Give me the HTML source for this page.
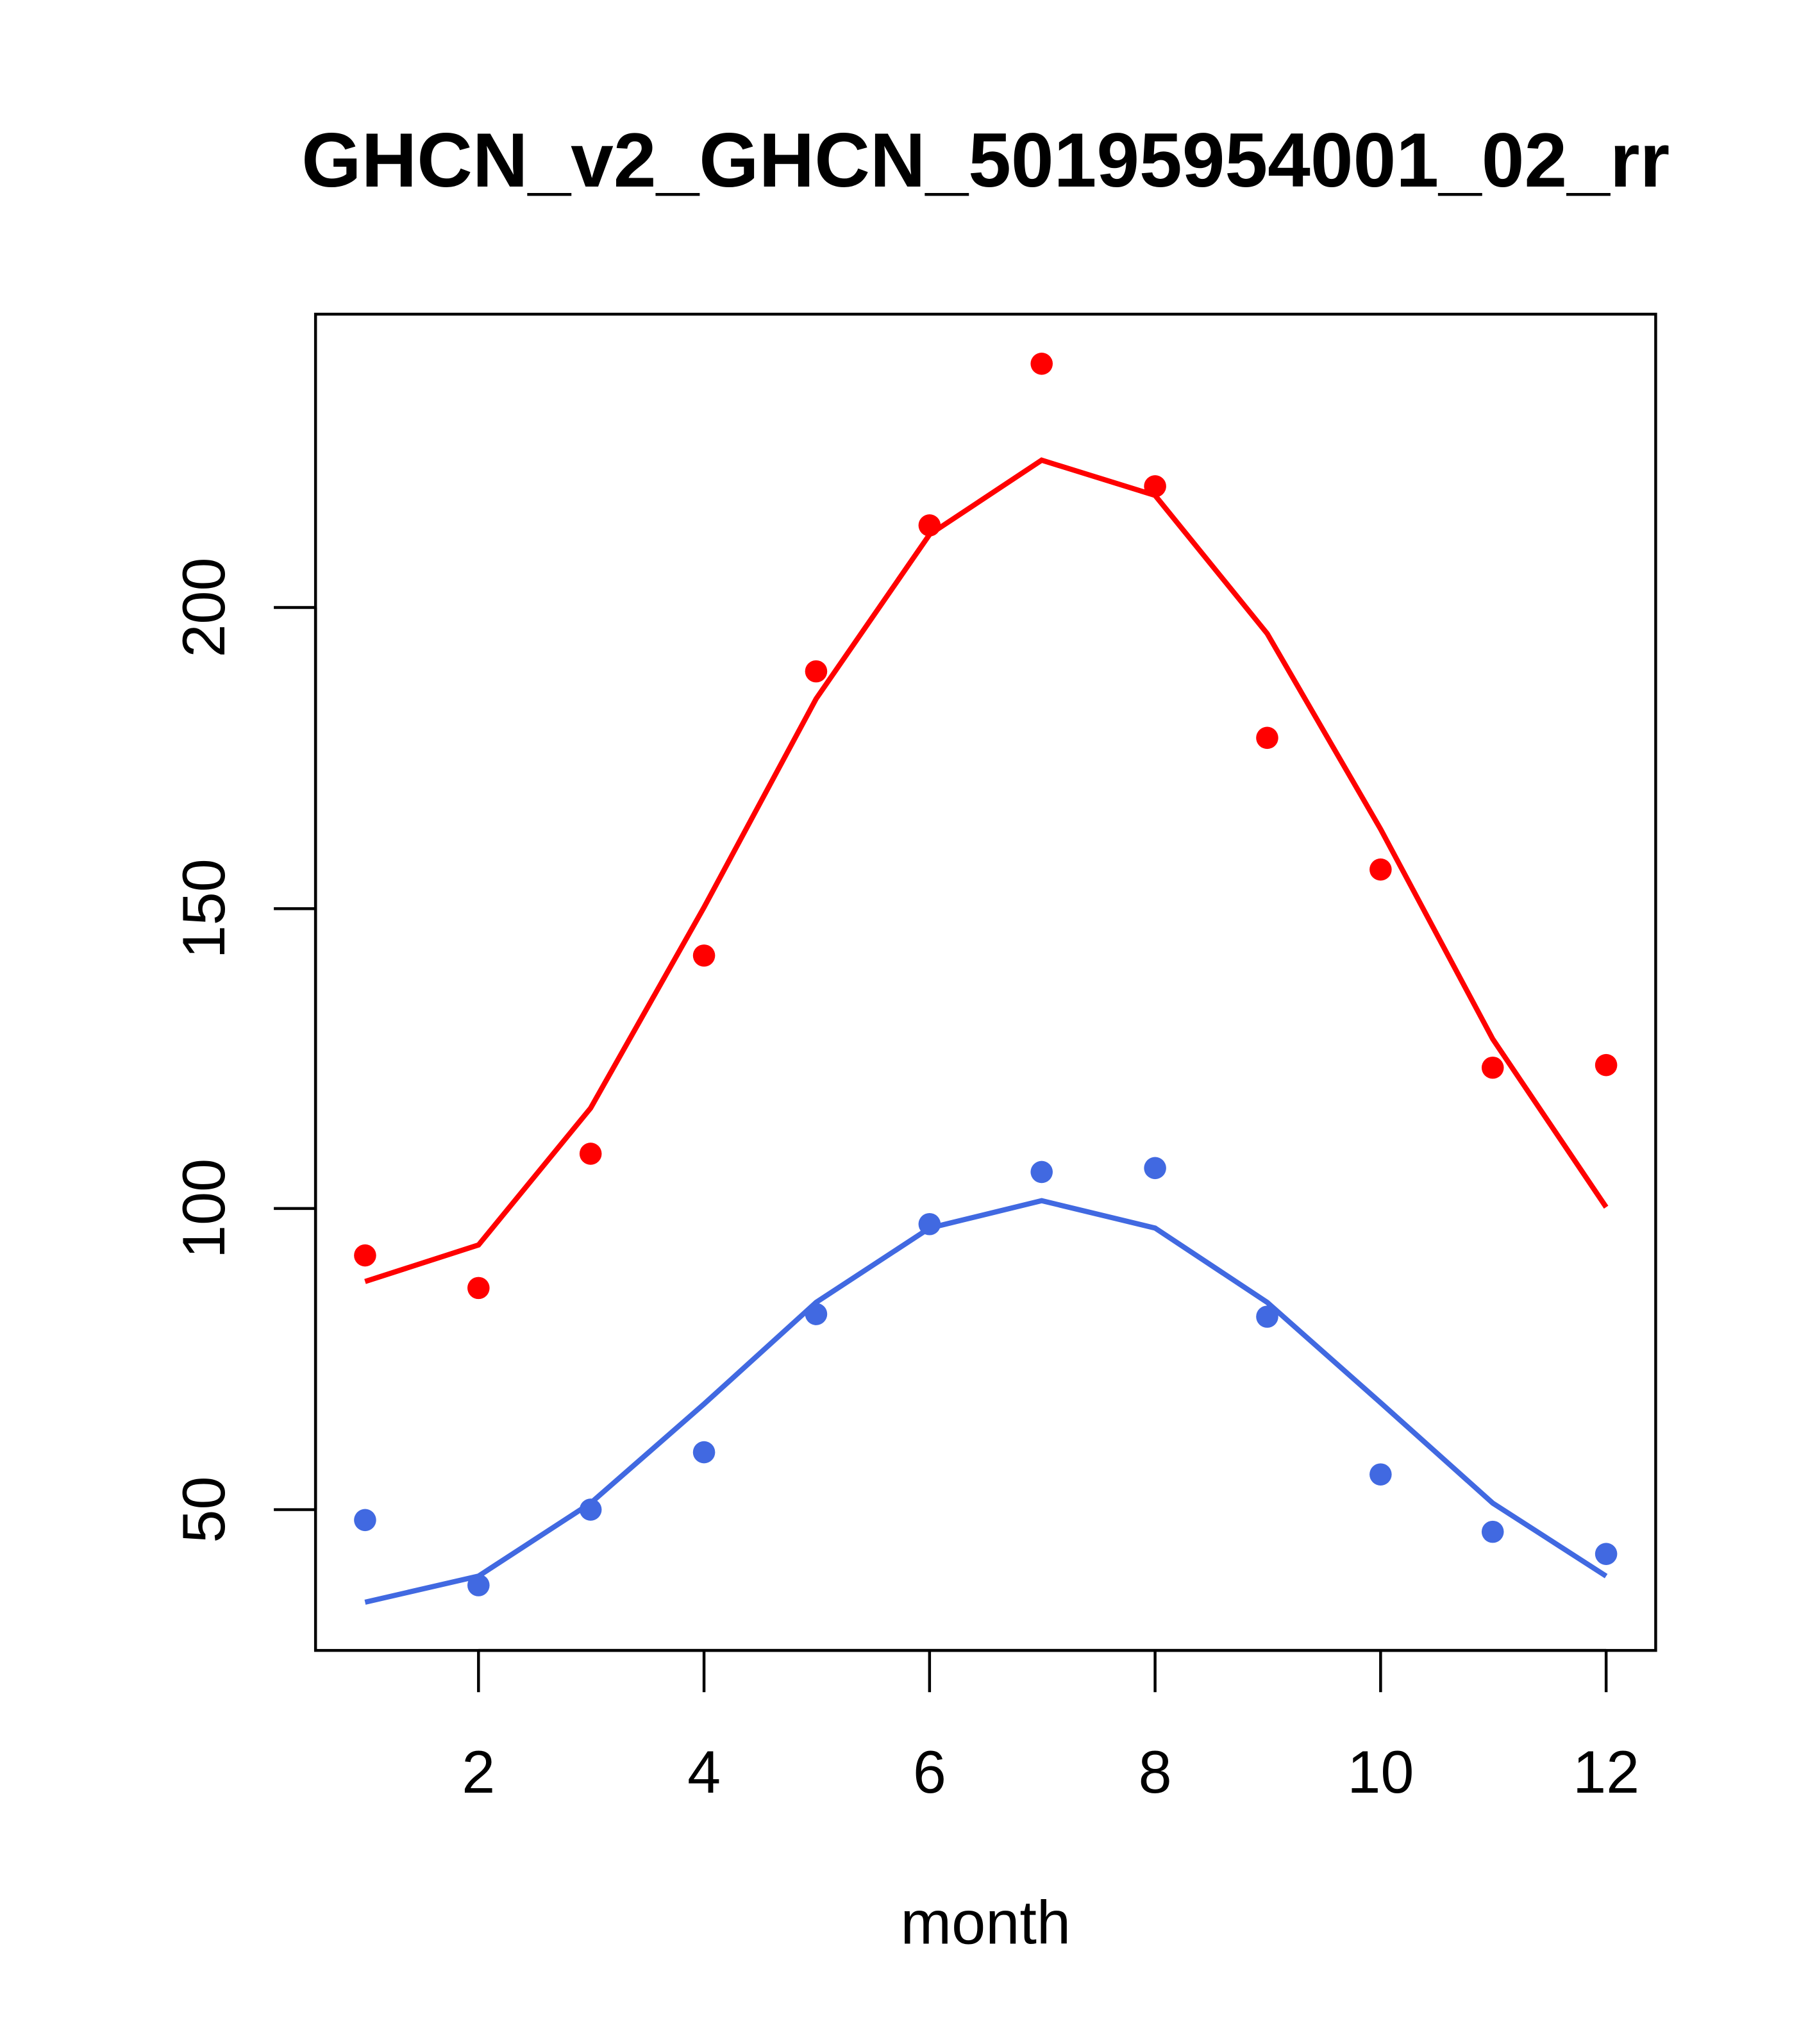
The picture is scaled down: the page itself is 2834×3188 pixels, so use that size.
<!DOCTYPE html>
<html><head><style>html,body{margin:0;padding:0;background:#fff}svg{display:block}</style></head>
<body>
<svg width="2834" height="3188" viewBox="0 0 1393.7 1567.9" xmlns="http://www.w3.org/2000/svg" font-family="Liberation Sans, sans-serif">
<rect width="1400" height="1575" fill="#fff"/>
<text x="756" y="143" font-size="59" font-weight="bold" text-anchor="middle">GHCN_v2_GHCN_50195954001_02_rr</text>
<rect x="242" y="241" width="1028" height="1025" fill="none" stroke="#000" stroke-width="2.2"/>
<g stroke="#000" stroke-width="2.2">
<line x1="367" y1="1266" x2="1232" y2="1266"/>
<line x1="367" y1="1266" x2="367" y2="1298"/><line x1="540" y1="1266" x2="540" y2="1298"/>
<line x1="713" y1="1266" x2="713" y2="1298"/><line x1="886" y1="1266" x2="886" y2="1298"/>
<line x1="1059" y1="1266" x2="1059" y2="1298"/><line x1="1232" y1="1266" x2="1232" y2="1298"/>
<line x1="242" y1="466" x2="242" y2="1158"/>
<line x1="210" y1="466" x2="242" y2="466"/><line x1="210" y1="697" x2="242" y2="697"/>
<line x1="210" y1="927" x2="242" y2="927"/><line x1="210" y1="1158" x2="242" y2="1158"/>
</g>
<g font-size="46" text-anchor="middle">
<text x="367" y="1375">2</text><text x="540" y="1375">4</text><text x="713" y="1375">6</text>
<text x="886" y="1375">8</text><text x="1059" y="1375">10</text><text x="1232" y="1375">12</text>
<text transform="translate(172,466) rotate(-90)">200</text>
<text transform="translate(172,697) rotate(-90)">150</text>
<text transform="translate(172,927) rotate(-90)">100</text>
<text transform="translate(172,1158) rotate(-90)">50</text>
<text x="756" y="1491" font-size="47">month</text>
</g>
<polyline fill="none" stroke="#ff0000" stroke-width="4" points="280,983 367,955 453,850 540,696 626,536 713,410 799,353 886,380 972,486 1059,636 1145,797 1232,926"/>
<polyline fill="none" stroke="#4169e1" stroke-width="4" points="280,1229 367,1209 453,1153 540,1077 626,999 713,942 799,921 886,942 972,999 1059,1076 1145,1153 1232,1209"/>
<g fill="#ff0000">
<circle cx="280" cy="963" r="8.5"/><circle cx="367" cy="988" r="8.5"/><circle cx="453" cy="885" r="8.5"/>
<circle cx="540" cy="733" r="8.5"/><circle cx="626" cy="515" r="8.5"/><circle cx="713" cy="403" r="8.5"/>
<circle cx="799" cy="279" r="8.5"/><circle cx="886" cy="373" r="8.5"/><circle cx="972" cy="566" r="8.5"/>
<circle cx="1059" cy="667" r="8.5"/><circle cx="1145" cy="819" r="8.5"/><circle cx="1232" cy="817" r="8.5"/>
</g>
<g fill="#4169e1">
<circle cx="280" cy="1166" r="8.5"/><circle cx="367" cy="1216" r="8.5"/><circle cx="453" cy="1158" r="8.5"/>
<circle cx="540" cy="1114" r="8.5"/><circle cx="626" cy="1008" r="8.5"/><circle cx="713" cy="939" r="8.5"/>
<circle cx="799" cy="899" r="8.5"/><circle cx="886" cy="896" r="8.5"/><circle cx="972" cy="1010" r="8.5"/>
<circle cx="1059" cy="1131" r="8.5"/><circle cx="1145" cy="1175" r="8.5"/><circle cx="1232" cy="1192" r="8.5"/>
</g>
</svg>
</body></html>
